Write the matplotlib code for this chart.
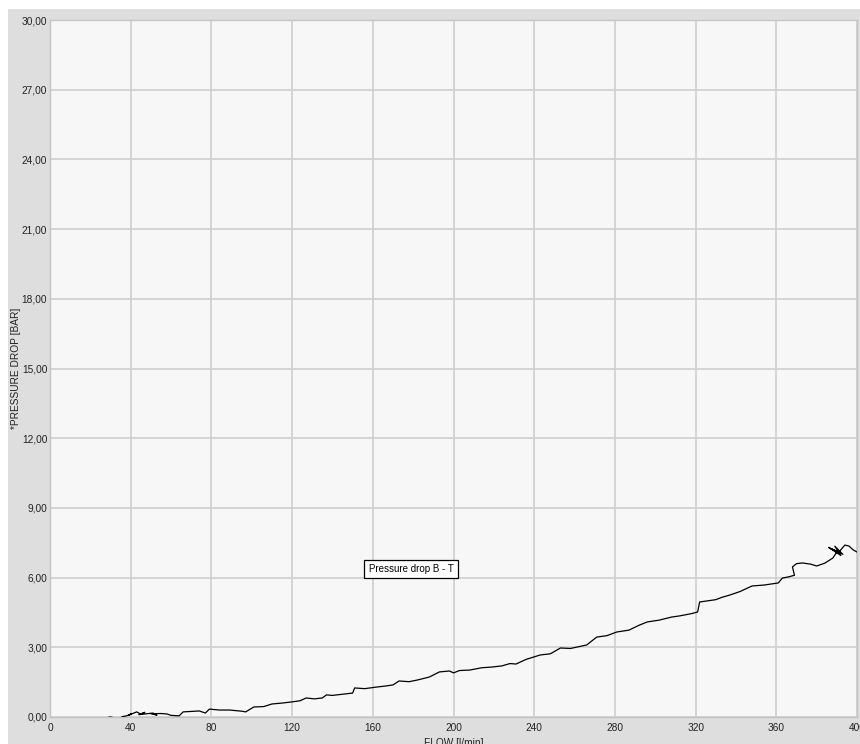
import matplotlib
matplotlib.use("Agg")
import matplotlib.pyplot as plt
from matplotlib.patches import Rectangle

# flow [l/min] vs pressure drop [bar]
flow = [0, 6, 12, 20, 27, 30, 34, 36, 38, 40.6, 39, 43, 45, 47, 44, 51, 53, 50,
        55, 58, 60, 64, 66, 70, 74, 77, 79, 84, 89, 95, 97, 101, 106, 110,
        115, 120, 124, 127, 131, 135, 137, 140, 145, 150, 151, 156, 162, 166,
        170, 173, 178, 182, 188, 193, 198, 200, 203, 208, 214, 219, 224, 228,
        231, 236, 243, 248, 253, 258, 266, 271, 276, 281, 287, 292, 296, 302,
        308, 312, 318, 321, 322, 326, 330, 333, 337, 342, 348, 354, 361, 363,
        366, 369, 368, 370, 373, 377, 380, 384, 388, 390, 386, 392, 389, 393,
        387, 391, 394, 396, 398, 400]
drop = [-0.05, -0.06, -0.05, -0.04, -0.05, 0.0, -0.08, 0.02, 0.05, 0.15, 0.08,
        0.22, 0.12, 0.2, 0.1, 0.17, 0.08, 0.14, 0.15, 0.13, 0.07, 0.05, 0.22,
        0.24, 0.26, 0.17, 0.34, 0.3, 0.3, 0.25, 0.22, 0.43, 0.45, 0.56, 0.6,
        0.65, 0.7, 0.82, 0.78, 0.82, 0.95, 0.93, 0.98, 1.03, 1.25, 1.22, 1.29,
        1.33, 1.38, 1.55, 1.52, 1.59, 1.72, 1.94, 1.98, 1.9, 2.0, 2.02, 2.12,
        2.15, 2.2, 2.3, 2.28, 2.48, 2.67, 2.72, 2.97, 2.95, 3.1, 3.44, 3.5,
        3.66, 3.74, 3.95, 4.09, 4.17, 4.3, 4.35, 4.45, 4.52, 4.95, 5.0, 5.05,
        5.15, 5.25, 5.4, 5.64, 5.68, 5.77, 5.98, 6.03, 6.1, 6.46, 6.6, 6.63,
        6.58, 6.5, 6.62, 6.84, 7.1, 7.3, 6.95, 7.35, 7.0, 7.25, 7.1, 7.4,
        7.36, 7.2, 7.1]

yticks = [0, 3, 6, 9, 12, 15, 18, 21, 24, 27, 30]
xticks = [0, 40, 80, 120, 160, 200, 240, 280, 320, 360, 400]

plt.rcParams['font.family'] = ['Liberation Sans', 'DejaVu Sans']

fig = plt.figure(figsize=(8.6, 7.44), dpi=100, facecolor='white')
# grey panel behind the plot
fig.patches.append(Rectangle((8 / 860, 0), 1, 1 - 9 / 744, transform=fig.transFigure,
                             facecolor='#dedede', edgecolor='none', zorder=-10))

ax = fig.add_axes([50 / 860, 1 - 717 / 744, 807 / 860, 697 / 744])
ax.set_facecolor('#f7f7f7')
ax.plot(flow, drop, color='black', linewidth=0.9, zorder=3)

ax.set_xlim(0, 400)
ax.set_ylim(0, 30)
ax.set_xticks(xticks)
ax.set_xticklabels([str(v) for v in xticks])
ax.set_yticks(yticks)
ax.set_yticklabels([('%.2f' % v).replace('.', ',') for v in yticks])
ax.tick_params(length=0, labelsize=7.3, colors='#222222')
ax.tick_params(axis='y', pad=2)
ax.tick_params(axis='x', pad=4)
ax.grid(True, color='#cfcfcf', linewidth=1.2)
ax.set_axisbelow(True)
for s in ax.spines.values():
    s.set_color('#c4c4c4')
    s.set_linewidth(1.0)

ax.set_xlabel('FLOW [l/min]', fontsize=7.3, color='#222222')
ax.xaxis.set_label_coords(0.5, -21 / 697)
ax.set_ylabel('*PRESSURE DROP [BAR]', fontsize=7.3, color='#222222')
ax.yaxis.set_label_coords(-29 / 807, 0.5)

ax.text(158, 6.37, 'Pressure drop B - T', fontsize=7, ha='left', va='center',
        bbox=dict(facecolor='white', edgecolor='black', linewidth=0.9,
                  boxstyle='square,pad=0.45'), zorder=4)

fig.savefig('out.png', dpi=100, facecolor=fig.get_facecolor())
